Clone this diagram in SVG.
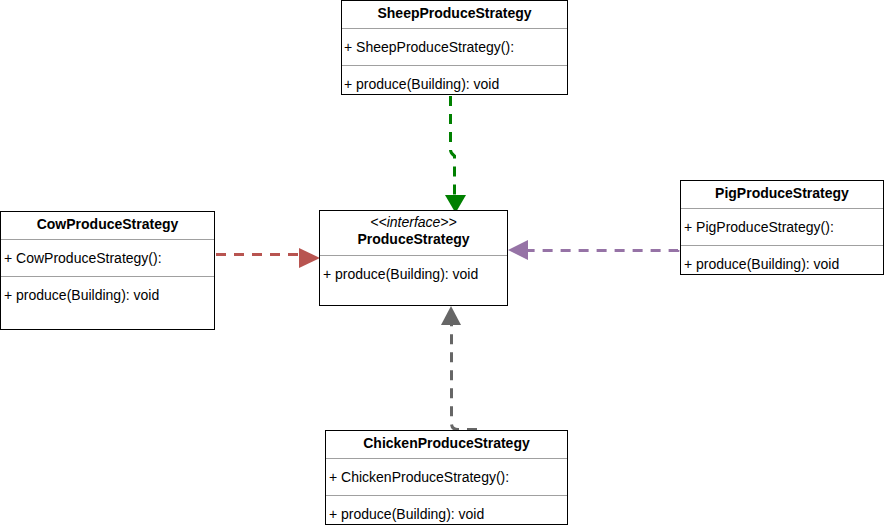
<svg xmlns="http://www.w3.org/2000/svg" width="885" height="526" viewBox="0 0 885 526">
<style>
.box{fill:#fff;stroke:#000;stroke-width:1}
.div{stroke:#a0a0a0;stroke-width:1}
.t{font-family:"Liberation Sans",Arial,sans-serif;font-size:14px;fill:#000}
.b{font-weight:bold;text-anchor:middle}
.i{font-style:italic;text-anchor:middle}
.c{fill:none;stroke-width:3;stroke-dasharray:10 8}
</style>
<rect width="885" height="526" fill="#fff"/>
<g id="connectors">
<path class="c" stroke="#008000" d="M450.5 96 L450.5 150 Q450.5 153 454.5 156 L454.5 195"/>
<polygon fill="#008000" points="445,195 466,195 455.5,213"/>
<path class="c" stroke="#b85450" d="M216 254.5 L300 254.5"/>
<polygon fill="#b85450" points="299,248 299,268 320,258"/>
<path class="c" stroke="#9673a6" d="M691 241 L684 241 Q680 242 678 250.5 L528 250.5"/>
<polygon fill="#9673a6" points="508,250 528,240 528,260"/>
<path class="c" stroke="#666666" d="M477 429.5 L458 429.5 Q452 429.5 451.5 424 L451.5 324"/>
<polygon fill="#666666" points="451,306 441,325 461,325"/>
</g>
<g id="sheep">
<rect class="box" x="341.5" y="0.5" width="226" height="94"/>
<line class="div" x1="342" y1="28.5" x2="567" y2="28.5"/>
<line class="div" x1="342" y1="65.5" x2="567" y2="65.5"/>
<text class="t b" x="454.5" y="18">SheepProduceStrategy</text>
<text class="t" x="344" y="52">+ SheepProduceStrategy():</text>
<text class="t" x="344" y="89">+ produce(Building): void</text>
</g>
<g id="interface">
<rect class="box" x="319.5" y="210.5" width="188" height="95"/>
<line class="div" x1="320" y1="255.5" x2="507" y2="255.5"/>
<text class="t i" x="413.5" y="227">&lt;&lt;interface&gt;&gt;</text>
<text class="t b" x="413.5" y="244">ProduceStrategy</text>
<text class="t" x="323" y="279">+ produce(Building): void</text>
</g>
<g id="cow">
<rect class="box" x="0.5" y="211.5" width="214" height="118"/>
<line class="div" x1="1" y1="239.5" x2="214" y2="239.5"/>
<line class="div" x1="1" y1="276.5" x2="214" y2="276.5"/>
<text class="t b" x="107.5" y="229">CowProduceStrategy</text>
<text class="t" x="4" y="263">+ CowProduceStrategy():</text>
<text class="t" x="4" y="300">+ produce(Building): void</text>
</g>
<g id="pig">
<rect class="box" x="680.5" y="180.5" width="203" height="94"/>
<line class="div" x1="681" y1="208.5" x2="883" y2="208.5"/>
<line class="div" x1="681" y1="245.5" x2="883" y2="245.5"/>
<text class="t b" x="782" y="198">PigProduceStrategy</text>
<text class="t" x="684" y="232">+ PigProduceStrategy():</text>
<text class="t" x="684" y="269">+ produce(Building): void</text>
</g>
<g id="chicken">
<rect class="box" x="325.5" y="430.5" width="242" height="94"/>
<line class="div" x1="326" y1="458.5" x2="567" y2="458.5"/>
<line class="div" x1="326" y1="495.5" x2="567" y2="495.5"/>
<text class="t b" x="446.5" y="448">ChickenProduceStrategy</text>
<text class="t" x="329" y="482">+ ChickenProduceStrategy():</text>
<text class="t" x="329" y="519">+ produce(Building): void</text>
</g>
</svg>
